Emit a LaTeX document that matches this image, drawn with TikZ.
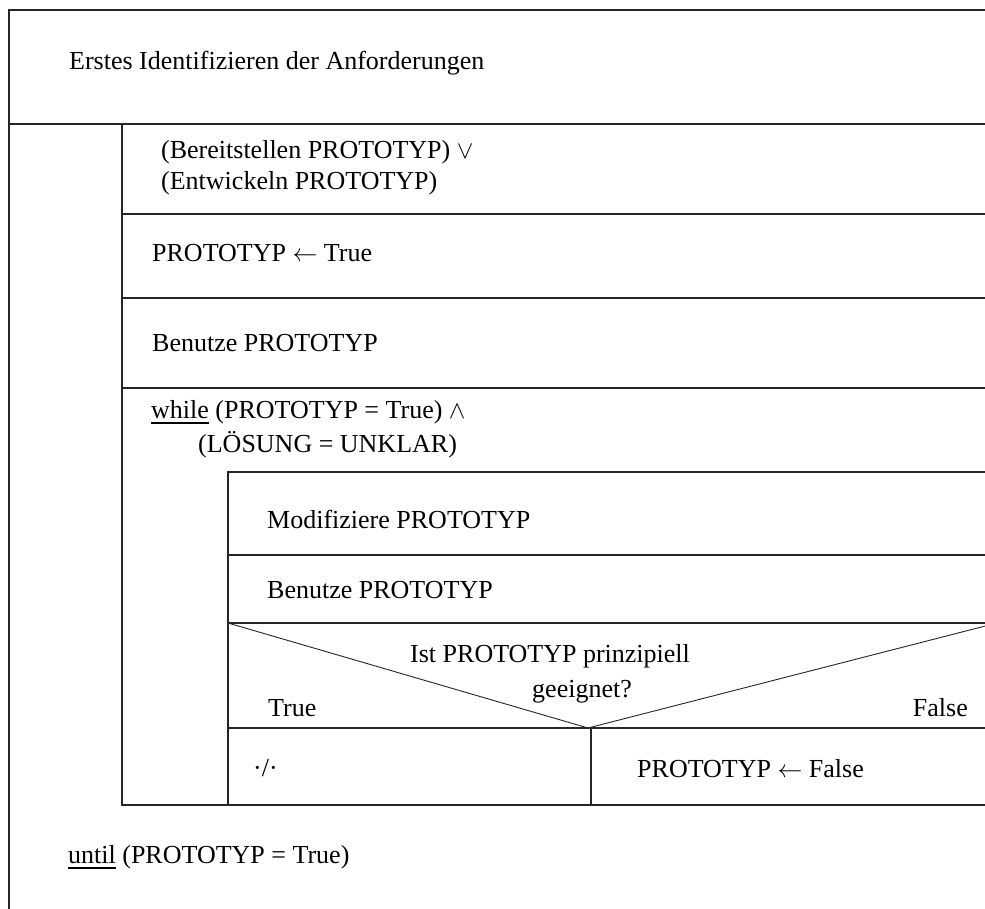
\documentclass[tikz,border=0pt]{standalone}
\usepackage{fontspec}
\setmainfont{Liberation Serif}
\newcommand{\myul}[1]{\setbox0\hbox{#1}\rlap{\rule[-6pt]{\wd0}{2.4pt}}\box0\relax}
\tikzset{
  frame/.style={draw=black!85, line width=1.1pt},
  txt/.style={anchor=base west, inner sep=0pt, font=\fontsize{26}{31}\selectfont},
  txtr/.style={anchor=base east, inner sep=0pt, font=\fontsize{26}{31}\selectfont}
}
\begin{document}
\begin{tikzpicture}[x=1pt,y=-1pt]
\useasboundingbox (0,0) rectangle (985,909);
\clip (0,0) rectangle (985,909);
\fill[white] (0,0) rectangle (985,909);
% outer frame
\draw[frame] (9,920) -- (9,10) -- (1000,10);
\draw[frame] (9,124) -- (1000,124);
% inner loop block
\draw[frame] (122,124) -- (122,805) -- (1000,805);
\draw[frame] (122,214) -- (1000,214);
\draw[frame] (122,298) -- (1000,298);
\draw[frame] (122,388) -- (1000,388);
% while body
\draw[frame] (228,805) -- (228,472) -- (1000,472);
\draw[frame] (228,555) -- (1000,555);
\draw[frame] (228,623) -- (1000,623);
\draw[frame] (228,728) -- (1000,728);
% decision
\coordinate (dl) at (228,623);
\coordinate (apex) at (588,728);
\coordinate (dr) at (997,623);
\draw[frame, line width=0.9pt] (dl) -- (apex) -- (dr);
\draw[frame] (591,728) -- (591,805);
% texts
\node[txt] (t0) at (69,70) {Erstes Identifizieren der Anforderungen};
\node[txt] (t1) at (161,159) {(Bereitstellen PROTOTYP) $\vee$};
\node[txt] (t1b) at (161,190) {(Entwickeln PROTOTYP)};
\node[txt] (t2) at (152,262) {PROTOTYP $\leftarrow$ True};
\node[txt] (t3) at (152,351) {Benutze PROTOTYP};
\node[txt] (t4) at (151,418) {\myul{while} (PROTOTYP = True) $\wedge$};
\node[txt] (t4b) at (198,452) {(LÖSUNG = UNKLAR)};
\node[txt] (t5) at (267,528) {Modifiziere PROTOTYP};
\node[txt] (t6) at (267,598) {Benutze PROTOTYP};
\node[txt] (t7) at (410,662) {Ist PROTOTYP prinzipiell};
\node[txt] (t7b) at (532,697) {geeignet?};
\node[txt] (tt) at (268,716) {True};
\node[txtr] (tf) at (968,716) {False};
\node[txt] (tn) at (253,776) {·/·};
\node[txt] (tpf) at (637,777) {PROTOTYP $\leftarrow$ False};
\node[txt] (tu) at (68,863) {\myul{until} (PROTOTYP = True)};
\end{tikzpicture}
\end{document}
